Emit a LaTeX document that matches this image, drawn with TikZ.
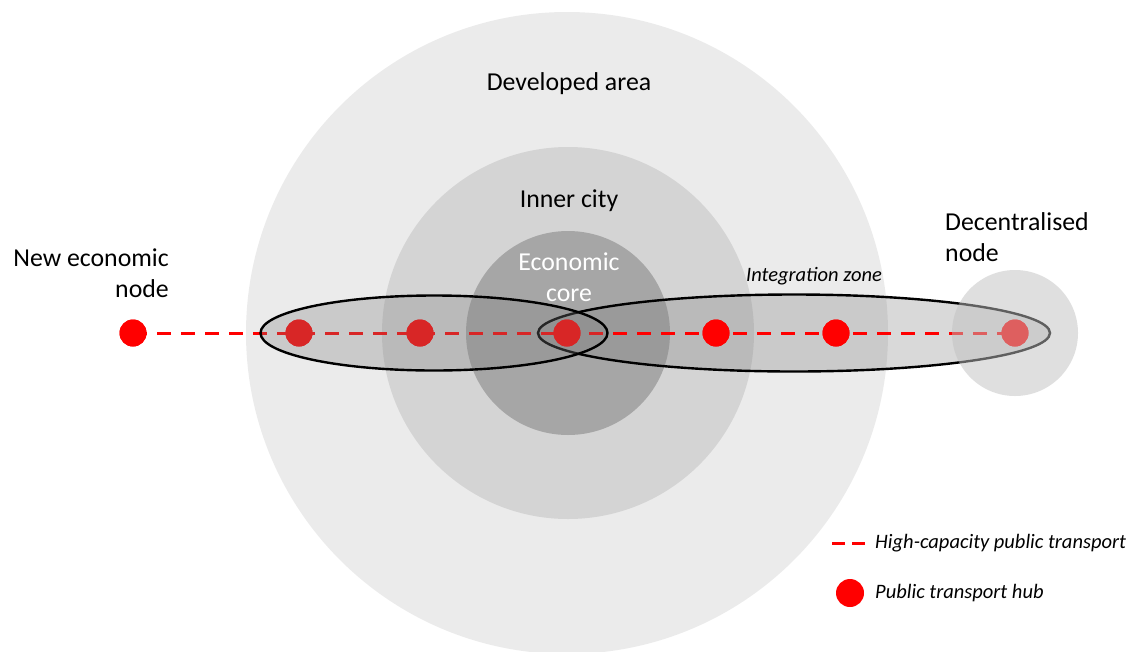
\documentclass[tikz,border=0pt]{standalone}
\usepackage{fontspec}
\setmainfont{Carlito}
\usetikzlibrary{shapes.geometric,positioning}

\tikzset{
  zone/.style={circle, inner sep=0pt},
  hub/.style={circle, fill=red, inner sep=0pt, minimum size=27pt},
  corridor/.style={ellipse, draw=black, line width=2.4pt, fill=black!50, fill opacity=0.3, inner sep=0pt},
  transit/.style={red, line width=3pt, dash pattern=on 14pt off 10pt},
  lbl/.style={font=\fontsize{25.8}{31}\selectfont, inner sep=0pt},
  note/.style={font=\fontsize{20.5}{24}\selectfont\itshape, inner sep=0pt},
}

\begin{document}
\begin{tikzpicture}[x=1pt, y=-1pt]
  \useasboundingbox (0,0) rectangle (1134,651);

  % rings round the centre
  \node[zone, fill=black!8, minimum size=642pt] (dev) at (567,333) {};
  \node[zone, fill=black!17, minimum size=372pt] (inner) at (568,333) {};
  \node[zone, fill=black!35, minimum size=204pt] (core) at (568,333) {};

  % integration zone, behind the line
  \node[corridor, minimum width=512pt, minimum height=77pt] (zoneR) at (794,333) {};

  % the line and its hubs
  \node[hub] (hnew) at (133,333) {};
  \node[hub] (h1) at (299,333) {};
  \node[hub] (h2) at (420,333) {};
  \node[hub] (hcore) at (567,333) {};
  \node[hub] (h4) at (716,333) {};
  \node[hub] (h5) at (836,333) {};
  \node[hub] (hdec) at (1015,333) {};
  \draw[transit] (hnew.center) -- (hdec.center);
  \foreach \h in {hnew,h1,h2,hcore,h4,h5,hdec}
    \fill[red] (\h) circle (13.5pt);

  % left zone over the line
  \node[corridor, minimum width=347pt, minimum height=75pt] (zoneL) at (434,333) {};

  % decentralised node
  \node[zone, fill=black!25, fill opacity=0.5, minimum size=126pt] (dec) at (1015,333) {};

  % labels
  \node[lbl] (tdev) at (569,84) {Developed area};
  \node[lbl] (tinner) at (569,201) {Inner city};
  \node[lbl, text=white, align=center] (tcore) at (569,277) {Economic\\core};
  \node[lbl, align=right, anchor=east] (tnew) at (169,273) {New economic\\node};
  \node[lbl, align=left, anchor=west] (tdec) at (945,237) {Decentralised\\node};
  \node[note] (tzone) at (814,276) {Integration zone};

  % legend
  \coordinate (la) at (832,543);
  \coordinate (lb) at (866,543);
  \draw[red, line width=3pt, dash pattern=on 13pt off 7pt] (la) -- (lb);
  \node[note, anchor=west] (tline) at (875,543) {High-capacity public transport};
  \node[hub, minimum size=28pt] (lhub) at (850,593) {};
  \node[note, anchor=west] (thub) at (875,593) {Public transport hub};
\end{tikzpicture}
\end{document}
